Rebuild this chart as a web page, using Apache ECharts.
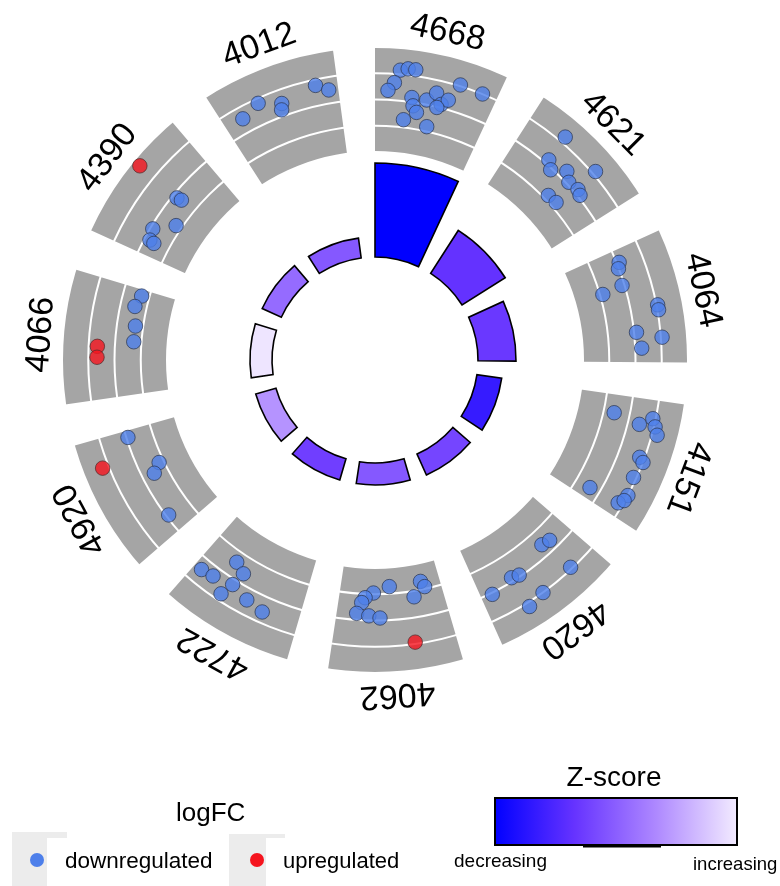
<!DOCTYPE html>
<html>
<head>
<meta charset="utf-8">
<script src="https://cdn.jsdelivr.net/npm/echarts@6/dist/echarts.min.js"></script>
<style>
  html, body { margin: 0; padding: 0; background: #ffffff; }
  #chart { width: 780px; height: 886px; }
</style>
</head>
<body>
<div id="chart"></div>
<script>
// KEGG pathway terms, clockwise from 12 o'clock
const terms = ['4668', '4621', '4064', '4151', '4620', '4062', '4722', '4920', '4066', '4390', '4012'];

// inner ring: bar height = -log10(adjusted p-value)
const significance = [9.4, 5.1, 3.8, 2.5, 2.3, 2.2, 2.2, 2.1, 2.2, 2.1, 2.0];

// inner ring fill: z-score of each term
const zScores = [-4.0, -2.7, -2.6, -3.3, -2.4, -2.1, -2.5, -1.2, -0.1, -1.8, -2.1];
const zRange = [-4.0, 0.0];

// genes of each term: [position inside the sector (0..1), logFC]
const downGenes = [
  [[0.20, 1.74], [0.26, 1.86], [0.32, 1.86], [0.16, 1.00], [0.11, 0.54], [0.69, 1.57], [0.88, 1.51],
   [0.32, 0.26], [0.34, -0.20], [0.45, 0.26], [0.52, 0.77], [0.58, 0.20], [0.63, 0.54], [0.38, -0.54],
   [0.27, -1.06], [0.50, -1.23], [0.55, -0.03]],
  [[0.31, 1.86], [0.33, 0.26], [0.40, -0.09], [0.51, 0.49], [0.59, 0.14], [0.69, 0.26], [0.67, 1.69],
   [0.55, -1.23], [0.65, -1.17], [0.74, 0.14]],
  [[0.11, 0.14], [0.16, -0.03], [0.31, -0.14], [0.34, -1.34], [0.54, 1.57], [0.58, 1.57], [0.74, 0.14],
   [0.80, 1.57], [0.88, 0.37]],
  [[0.17, -0.89], [0.22, 0.66], [0.15, 1.34], [0.21, 1.57], [0.27, 1.80], [0.48, 1.23], [0.51, 1.51],
   [0.65, 1.34], [0.90, -0.60], [0.80, 1.51], [0.89, 1.23], [0.85, 1.46]],
  [[0.28, -0.66], [0.20, -0.54], [0.23, 1.40], [0.68, -0.20], [0.61, -0.09], [0.90, 0.09], [0.53, 1.51],
   [0.68, 1.74]],
  [[0.51, -1.91], [0.19, -1.97], [0.16, -1.63], [0.28, -1.17], [0.67, -1.57], [0.75, -1.29], [0.78, -1.00],
   [0.82, -0.37], [0.71, -0.26], [0.61, -0.14]],
  [[0.72, -0.89], [0.93, 0.66], [0.82, 0.54], [0.61, -0.54], [0.64, 0.31], [0.68, 1.11], [0.47, 0.66],
   [0.31, 0.89]],
  [[0.94, -0.09], [0.62, -1.23], [0.55, -0.71], [0.16, -0.14]],
  [[0.94, -1.06], [0.83, -0.83], [0.65, -1.06], [0.50, -1.06]],
  [[0.59, -0.26], [0.60, -0.54], [0.38, -1.17], [0.24, -0.14], [0.14, -0.31], [0.13, -0.60]],
  [[0.16, 0.83], [0.33, 1.23], [0.51, 0.71], [0.49, 0.37], [0.82, 1.17], [0.92, 0.77]]
];
const upGenes = [
  [], [], [], [], [],
  [[0.33, 1.40]],
  [],
  [[0.77, 1.86]],
  [[0.44, 1.00], [0.35, 1.00]],
  [[0.60, 2.54]],
  []
];

// colour ramp shared by the bars and the colour bar
const zStops = [[0, '#0000ff'], [0.33, '#6633ff'], [0.66, '#ad87ff'], [1, '#f3ecff']];
const FONT = "'Liberation Sans', Arial, sans-serif";

function hexToRgb(h) {
  return [parseInt(h.slice(1, 3), 16), parseInt(h.slice(3, 5), 16), parseInt(h.slice(5, 7), 16)];
}
function zColor(z) {
  const t = Math.max(0, Math.min(1, (z - zRange[0]) / (zRange[1] - zRange[0])));
  for (let i = 1; i < zStops.length; i++) {
    if (t <= zStops[i][0]) {
      const a = zStops[i - 1], b = zStops[i];
      const f = (t - a[0]) / (b[0] - a[0]);
      const ca = hexToRgb(a[1]), cb = hexToRgb(b[1]);
      const c = ca.map((v, k) => Math.round(v + (cb[k] - v) * f));
      return 'rgb(' + c.join(',') + ')';
    }
  }
  return zStops[zStops.length - 1][1];
}

// sector geometry: each term owns 360/n degrees, filled over (1 - gap)
const n = terms.length;
const step = 360 / n;
const gapShare = 0.236;
const fill = step * (1 - gapShare);
const startShift = step * gapShare / 2;   // first sector begins at 12 o'clock

const center = [375, 360];

function genePoints(groups) {
  const out = [];
  groups.forEach((list, i) => {
    list.forEach(g => out.push([g[1], i * step + g[0] * fill]));
  });
  return out;
}

const option = {
  animation: false,
  backgroundColor: '#ffffff',
  polar: [
    { center: center, radius: [103, 197] },
    { center: center, radius: [208, 313] },
    { center: center, radius: [208, 313] }
  ],
  angleAxis: [
    { polarIndex: 0, type: 'category', data: terms, startAngle: 90 + startShift, clockwise: true, show: false },
    { polarIndex: 1, type: 'category', data: terms, startAngle: 90 + startShift, clockwise: true, show: false },
    { polarIndex: 2, type: 'value', min: 0, max: 360, startAngle: 90, clockwise: true, show: false }
  ],
  radiusAxis: [
    { polarIndex: 0, type: 'value', min: 0, max: 9.4, show: false },
    { polarIndex: 1, type: 'value', min: 0, max: 1, show: false },
    {
      polarIndex: 2, type: 'value', min: -3, max: 3, interval: 1.5, z: 4,
      axisLine: { show: false }, axisTick: { show: false }, axisLabel: { show: false },
      splitLine: { show: true, lineStyle: { color: '#ffffff', width: 2 } }
    }
  ],
  series: [
    {
      type: 'bar', coordinateSystem: 'polar', polarIndex: 0,
      barCategoryGap: (gapShare * 100) + '%',
      data: significance.map((v, i) => ({
        value: v,
        itemStyle: { color: zColor(zScores[i]), borderColor: '#000000', borderWidth: 1.6 }
      })),
      z: 2
    },
    {
      type: 'bar', coordinateSystem: 'polar', polarIndex: 1,
      barCategoryGap: (gapShare * 100) + '%',
      data: terms.map(() => 1),
      itemStyle: { color: '#a5a5a5' },
      z: 2
    },
    {
      type: 'scatter', coordinateSystem: 'polar', polarIndex: 2,
      data: genePoints(downGenes),
      symbolSize: 14.5,
      itemStyle: { color: '#4d7fea', borderColor: '#2a3550', borderWidth: 0.9 },
      z: 6
    },
    {
      type: 'scatter', coordinateSystem: 'polar', polarIndex: 2,
      data: genePoints(upGenes),
      symbolSize: 14.5,
      itemStyle: { color: '#f5141e', borderColor: '#502a2a', borderWidth: 0.9 },
      z: 7
    },
    {
      // term names, written along the ring
      type: 'custom', coordinateSystem: 'polar', polarIndex: 1,
      data: terms.map((t, i) => [1, i]),
      z: 8,
      silent: true,
      renderItem: function (params, api) {
        const cs = params.coordSys;
        const p = api.coord([1, api.value(1)]);
        const dx = p[0] - cs.cx, dy = p[1] - cs.cy;
        const len = Math.hypot(dx, dy);
        const R = len + 22;
        const ang = Math.atan2(dx, -dy);
        return {
          type: 'text',
          x: cs.cx + dx / len * R,
          y: cs.cy + dy / len * R,
          rotation: -ang,
          style: {
            text: terms[params.dataIndex],
            fontSize: 34,
            fontFamily: FONT,
            fill: '#000000',
            align: 'center',
            verticalAlign: 'middle'
          }
        };
      }
    }
  ],
  graphic: [
    // logFC key
    { type: 'text', left: 176, top: 801, style: { text: 'logFC', fontSize: 26, fontFamily: FONT, fill: '#000' } },
    { type: 'rect', shape: { x: 12, y: 832, width: 55, height: 54 }, style: { fill: '#ececec' } },
    { type: 'rect', shape: { x: 47, y: 838, width: 175, height: 48 }, style: { fill: '#ffffff' } },
    { type: 'circle', shape: { cx: 37, cy: 860, r: 7 }, style: { fill: '#4d7fea' } },
    { type: 'text', x: 65, y: 862, style: { text: 'downregulated', fontSize: 22.5, fontFamily: FONT, fill: '#000', verticalAlign: 'middle' } },
    { type: 'rect', shape: { x: 229, y: 834, width: 56, height: 52 }, style: { fill: '#ececec' } },
    { type: 'rect', shape: { x: 266, y: 838, width: 150, height: 48 }, style: { fill: '#ffffff' } },
    { type: 'circle', shape: { cx: 257, cy: 860, r: 7 }, style: { fill: '#f5141e' } },
    { type: 'text', x: 283, y: 862, style: { text: 'upregulated', fontSize: 22, fontFamily: FONT, fill: '#000', verticalAlign: 'middle' } },
    // z-score key
    { type: 'text', x: 614, y: 778, style: { text: 'Z-score', fontSize: 28, fontFamily: FONT, fill: '#000', align: 'center', verticalAlign: 'middle' } },
    {
      type: 'rect', shape: { x: 495, y: 798, width: 242, height: 47 },
      style: {
        fill: new echarts.graphic.LinearGradient(0, 0, 1, 0, zStops.map(s => ({ offset: s[0], color: s[1] }))),
        stroke: '#000000', lineWidth: 2
      }
    },
    { type: 'line', shape: { x1: 583, y1: 846, x2: 661, y2: 846 }, style: { stroke: '#000', lineWidth: 3 } },
    { type: 'text', x: 454, y: 862, style: { text: 'decreasing', fontSize: 19, fontFamily: FONT, fill: '#000', verticalAlign: 'middle' } },
    { type: 'text', x: 693, y: 865, style: { text: 'increasing', fontSize: 18.5, fontFamily: FONT, fill: '#000', verticalAlign: 'middle' } }
  ]
};

const chart = echarts.init(document.getElementById('chart'), null, { renderer: 'canvas' });
chart.setOption(option);
</script>
</body>
</html>
